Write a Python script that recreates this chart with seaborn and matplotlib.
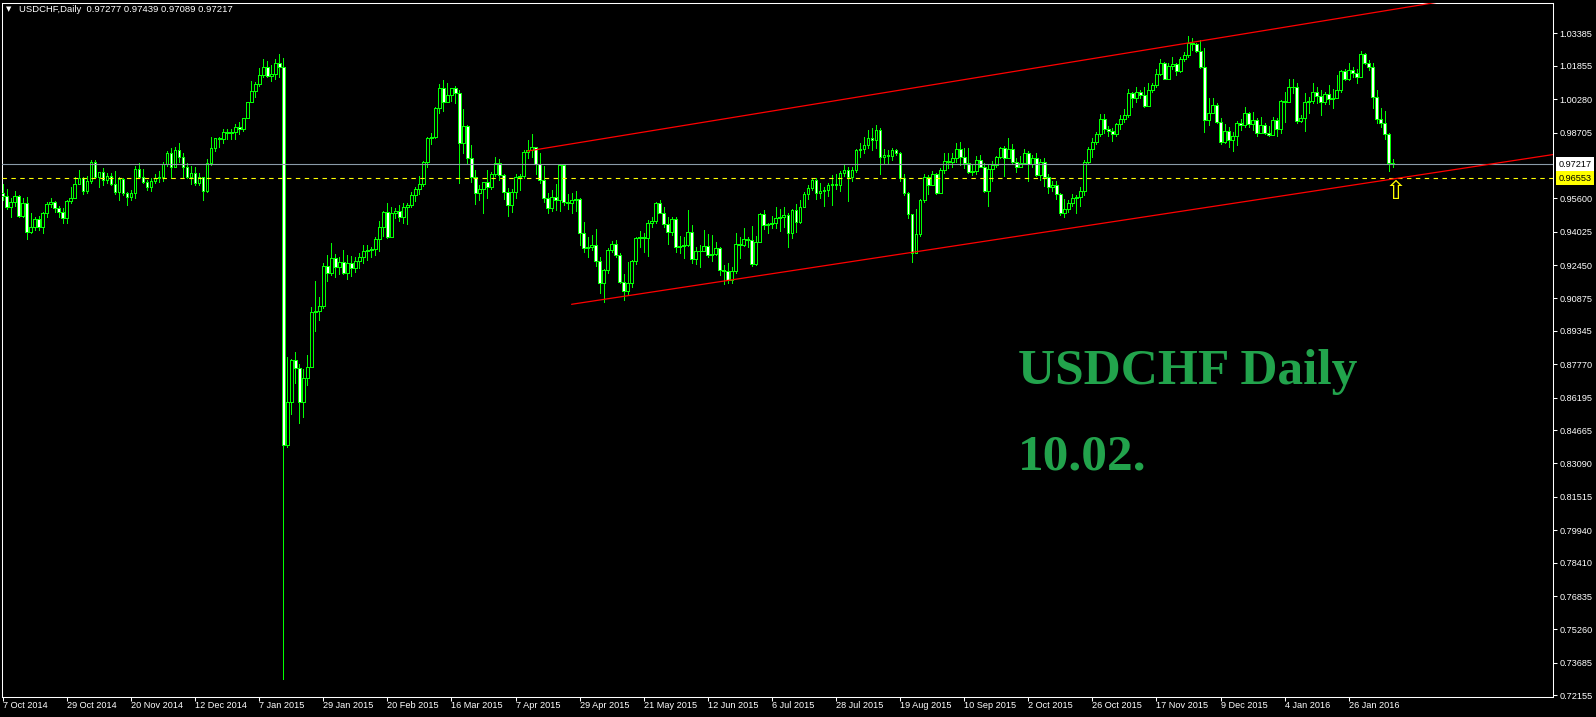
import numpy as np
import matplotlib
matplotlib.use("Agg")
import matplotlib.pyplot as plt
import matplotlib.transforms as mtransforms
import seaborn as sns

# --- daily USDCHF bars (7 Oct 2014 .. 10 Feb 2016) ---
first_open = 0.9583

closes = [
    0.9571, 0.9517, 0.9543, 0.9571, 0.9478, 0.9536, 0.9399, 0.9423, 0.9461, 0.9426,
    0.9489, 0.9533, 0.9543, 0.9516, 0.9497, 0.9469, 0.9546, 0.9560, 0.9626, 0.9654,
    0.9596, 0.9642, 0.9731, 0.9659, 0.9683, 0.9646, 0.9665, 0.9628, 0.9588, 0.9650,
    0.9583, 0.9568, 0.9587, 0.9698, 0.9662, 0.9639, 0.9612, 0.9642, 0.9654, 0.9662,
    0.9722, 0.9772, 0.9709, 0.9788, 0.9756, 0.9709, 0.9662, 0.9681, 0.9634, 0.9662,
    0.9596, 0.9728, 0.9796, 0.9843, 0.9840, 0.9871, 0.9866, 0.9871, 0.9895, 0.9885,
    0.9937, 1.0013, 1.0066, 1.0099, 1.0142, 1.0181, 1.0139, 1.0145, 1.0197, 1.0181,
    0.8396, 0.8597, 0.8797, 0.8758, 0.8600, 0.8710, 0.8765, 0.9025, 0.9030, 0.9052,
    0.9240, 0.9206, 0.9277, 0.9237, 0.9261, 0.9209, 0.9256, 0.9233, 0.9264, 0.9281,
    0.9313, 0.9316, 0.9319, 0.9366, 0.9423, 0.9494, 0.9379, 0.9489, 0.9500, 0.9473,
    0.9517, 0.9528, 0.9575, 0.9604, 0.9626, 0.9730, 0.9843, 0.9847, 0.9984, 1.0079,
    1.0016, 1.0046, 1.0079, 1.0058, 0.9822, 0.9901, 0.9749, 0.9659, 0.9583, 0.9602,
    0.9637, 0.9615, 0.9675, 0.9725, 0.9670, 0.9591, 0.9528, 0.9591, 0.9659, 0.9665,
    0.9780, 0.9788, 0.9804, 0.9722, 0.9646, 0.9560, 0.9513, 0.9564, 0.9552, 0.9717,
    0.9544, 0.9536, 0.9552, 0.9555, 0.9395, 0.9324, 0.9329, 0.9338, 0.9266, 0.9162,
    0.9222, 0.9316, 0.9344, 0.9294, 0.9167, 0.9124, 0.9159, 0.9264, 0.9374, 0.9376,
    0.9371, 0.9445, 0.9454, 0.9539, 0.9492, 0.9439, 0.9399, 0.9462, 0.9332, 0.9336,
    0.9338, 0.9403, 0.9275, 0.9313, 0.9310, 0.9335, 0.9292, 0.9297, 0.9327, 0.9222,
    0.9219, 0.9174, 0.9219, 0.9343, 0.9338, 0.9366, 0.9363, 0.9250, 0.9355, 0.9486,
    0.9434, 0.9437, 0.9442, 0.9465, 0.9470, 0.9480, 0.9398, 0.9505, 0.9450, 0.9520,
    0.9580, 0.9609, 0.9646, 0.9583, 0.9596, 0.9599, 0.9623, 0.9627, 0.9624, 0.9681,
    0.9693, 0.9659, 0.9693, 0.9788, 0.9793, 0.9811, 0.9843, 0.9835, 0.9882, 0.9753,
    0.9764, 0.9761, 0.9788, 0.9772, 0.9654, 0.9583, 0.9484, 0.9303, 0.9390, 0.9552,
    0.9662, 0.9623, 0.9673, 0.9587, 0.9693, 0.9736, 0.9733, 0.9752, 0.9791, 0.9753,
    0.9728, 0.9686, 0.9690, 0.9741, 0.9709, 0.9594, 0.9697, 0.9717, 0.9753, 0.9796,
    0.9752, 0.9791, 0.9733, 0.9709, 0.9728, 0.9772, 0.9722, 0.9752, 0.9670, 0.9733,
    0.9662, 0.9615, 0.9621, 0.9579, 0.9492, 0.9508, 0.9536, 0.9563, 0.9568, 0.9596,
    0.9730, 0.9791, 0.9826, 0.9863, 0.9933, 0.9885, 0.9878, 0.9863, 0.9909, 0.9933,
    0.9951, 1.0055, 1.0031, 1.0060, 1.0047, 0.9996, 1.0071, 1.0095, 1.0145, 1.0197,
    1.0123, 1.0184, 1.0192, 1.0162, 1.0216, 1.0236, 1.0291, 1.0288, 1.0255, 1.0178,
    0.9929, 0.9964, 0.9999, 0.9922, 0.9827, 0.9878, 0.9835, 0.9854, 0.9914, 0.9904,
    0.9964, 0.9911, 0.9929, 0.9870, 0.9906, 0.9867, 0.9859, 0.9929, 0.9885, 1.0019,
    1.0016, 1.0084, 1.0087, 0.9926, 0.9937, 1.0016, 1.0019, 1.0060, 1.0044, 1.0016,
    1.0052, 1.0028, 1.0035, 1.0071, 1.0161, 1.0123, 1.0165, 1.0150, 1.0134, 1.0241,
    1.0197, 1.0181, 1.0040, 0.9933, 0.9917, 0.9863, 0.97277, 0.97217,
]

highs = [
    0.9626, 0.9602, 0.9560, 0.9594, 0.9576, 0.9560, 0.9568, 0.9489, 0.9470, 0.9477,
    0.9497, 0.9544, 0.9560, 0.9549, 0.9524, 0.9514, 0.9552, 0.9615, 0.9662, 0.9694,
    0.9662, 0.9665, 0.9741, 0.9741, 0.9686, 0.9701, 0.9678, 0.9678, 0.9689, 0.9662,
    0.9654, 0.9591, 0.9599, 0.9712, 0.9728, 0.9697, 0.9646, 0.9654, 0.9675, 0.9690,
    0.9733, 0.9785, 0.9796, 0.9800, 0.9819, 0.9775, 0.9725, 0.9712, 0.9706, 0.9678,
    0.9654, 0.9744, 0.9848, 0.9846, 0.9848, 0.9885, 0.9885, 0.9885, 0.9911, 0.9920,
    0.9939, 1.0015, 1.0115, 1.0110, 1.0173, 1.0217, 1.0208, 1.0189, 1.0217, 1.0241,
    1.0220, 0.8809, 0.8800, 0.8836, 0.8778, 0.8753, 0.8820, 0.9045, 0.9170, 0.9093,
    0.9253, 0.9292, 0.9347, 0.9297, 0.9281, 0.9316, 0.9292, 0.9288, 0.9281, 0.9300,
    0.9340, 0.9340, 0.9332, 0.9379, 0.9453, 0.9501, 0.9536, 0.9517, 0.9513, 0.9528,
    0.9536, 0.9536, 0.9588, 0.9615, 0.9665, 0.9737, 0.9851, 0.9866, 0.9989, 1.0099,
    1.0118, 1.0102, 1.0082, 1.0090, 1.0071, 0.9980, 0.9905, 0.9811, 0.9693, 0.9623,
    0.9639, 0.9693, 0.9685, 0.9756, 0.9744, 0.9674, 0.9607, 0.9604, 0.9674, 0.9674,
    0.9788, 0.9835, 0.9863, 0.9796, 0.9772, 0.9712, 0.9583, 0.9599, 0.9627, 0.9722,
    0.9722, 0.9579, 0.9587, 0.9596, 0.9560, 0.9450, 0.9376, 0.9385, 0.9415, 0.9281,
    0.9225, 0.9324, 0.9360, 0.9363, 0.9300, 0.9203, 0.9261, 0.9269, 0.9379, 0.9407,
    0.9395, 0.9458, 0.9470, 0.9543, 0.9552, 0.9517, 0.9473, 0.9470, 0.9470, 0.9382,
    0.9376, 0.9505, 0.9434, 0.9332, 0.9340, 0.9410, 0.9391, 0.9387, 0.9355, 0.9332,
    0.9245, 0.9253, 0.9234, 0.9395, 0.9376, 0.9418, 0.9379, 0.9429, 0.9382, 0.9492,
    0.9505, 0.9442, 0.9476, 0.9517, 0.9510, 0.9517, 0.9489, 0.9508, 0.9533, 0.9552,
    0.9591, 0.9623, 0.9654, 0.9654, 0.9631, 0.9612, 0.9634, 0.9670, 0.9675, 0.9690,
    0.9722, 0.9706, 0.9709, 0.9791, 0.9823, 0.9851, 0.9882, 0.9890, 0.9906, 0.9890,
    0.9791, 0.9788, 0.9796, 0.9791, 0.9780, 0.9675, 0.9591, 0.9473, 0.9509, 0.9555,
    0.9675, 0.9670, 0.9689, 0.9681, 0.9701, 0.9775, 0.9772, 0.9772, 0.9822, 0.9827,
    0.9796, 0.9799, 0.9717, 0.9759, 0.9764, 0.9725, 0.9717, 0.9738, 0.9759, 0.9804,
    0.9807, 0.9843, 0.9816, 0.9748, 0.9759, 0.9791, 0.9785, 0.9764, 0.9772, 0.9744,
    0.9748, 0.9675, 0.9643, 0.9643, 0.9587, 0.9555, 0.9552, 0.9580, 0.9576, 0.9612,
    0.9741, 0.9804, 0.9843, 0.9874, 0.9958, 0.9958, 0.9901, 0.9890, 0.9913, 0.9953,
    0.9980, 1.0074, 1.0063, 1.0084, 1.0071, 1.0084, 1.0102, 1.0106, 1.0169, 1.0216,
    1.0205, 1.0200, 1.0225, 1.0200, 1.0228, 1.0252, 1.0326, 1.0315, 1.0294, 1.0307,
    1.0268, 1.0032, 1.0032, 1.0008, 0.9937, 0.9911, 0.9898, 0.9874, 0.9926, 0.9933,
    0.9989, 0.9969, 0.9969, 0.9937, 0.9942, 0.9917, 0.9901, 0.9942, 0.9937, 1.0024,
    1.0063, 1.0121, 1.0121, 1.0103, 0.9953, 1.0055, 1.0040, 1.0102, 1.0087, 1.0071,
    1.0063, 1.0095, 1.0074, 1.0142, 1.0165, 1.0169, 1.0200, 1.0181, 1.0169, 1.0255,
    1.0247, 1.0213, 1.0197, 1.0071, 0.9985, 0.9974, 0.9870, 0.97439,
]

lows = [
    0.9552, 0.9508, 0.9470, 0.9524, 0.9470, 0.9470, 0.9366, 0.9395, 0.9410, 0.9410,
    0.9398, 0.9473, 0.9521, 0.9497, 0.9470, 0.9445, 0.9442, 0.9536, 0.9560, 0.9631,
    0.9580, 0.9583, 0.9634, 0.9654, 0.9615, 0.9623, 0.9631, 0.9623, 0.9580, 0.9552,
    0.9576, 0.9528, 0.9552, 0.9560, 0.9659, 0.9631, 0.9599, 0.9596, 0.9631, 0.9639,
    0.9643, 0.9712, 0.9654, 0.9706, 0.9733, 0.9654, 0.9654, 0.9628, 0.9623, 0.9623,
    0.9552, 0.9591, 0.9717, 0.9785, 0.9804, 0.9822, 0.9838, 0.9838, 0.9840, 0.9863,
    0.9879, 0.9958, 1.0029, 1.0040, 1.0091, 1.0134, 1.0132, 1.0113, 1.0123, 1.0134,
    0.7291, 0.8385, 0.8542, 0.8687, 0.8501, 0.8529, 0.8679, 0.8765, 0.8935, 0.8986,
    0.9041, 0.9171, 0.9198, 0.9187, 0.9203, 0.9203, 0.9178, 0.9193, 0.9214, 0.9229,
    0.9256, 0.9269, 0.9284, 0.9292, 0.9313, 0.9382, 0.9371, 0.9379, 0.9465, 0.9454,
    0.9442, 0.9439, 0.9520, 0.9549, 0.9580, 0.9618, 0.9709, 0.9816, 0.9846, 0.9961,
    0.9973, 1.0016, 1.0021, 1.0008, 0.9634, 0.9772, 0.9725, 0.9638, 0.9533, 0.9552,
    0.9492, 0.9560, 0.9602, 0.9665, 0.9646, 0.9555, 0.9478, 0.9497, 0.9560, 0.9599,
    0.9654, 0.9749, 0.9753, 0.9675, 0.9634, 0.9544, 0.9492, 0.9502, 0.9505, 0.9502,
    0.9528, 0.9509, 0.9492, 0.9500, 0.9340, 0.9308, 0.9285, 0.9316, 0.9240, 0.9115,
    0.9072, 0.9206, 0.9308, 0.9281, 0.9159, 0.9080, 0.9104, 0.9143, 0.9250, 0.9332,
    0.9308, 0.9288, 0.9426, 0.9442, 0.9489, 0.9426, 0.9344, 0.9387, 0.9308, 0.9303,
    0.9277, 0.9335, 0.9253, 0.9250, 0.9234, 0.9313, 0.9281, 0.9266, 0.9292, 0.9198,
    0.9156, 0.9159, 0.9159, 0.9206, 0.9277, 0.9335, 0.9332, 0.9241, 0.9245, 0.9355,
    0.9413, 0.9398, 0.9418, 0.9418, 0.9407, 0.9426, 0.9332, 0.9371, 0.9402, 0.9442,
    0.9517, 0.9555, 0.9599, 0.9555, 0.9560, 0.9524, 0.9571, 0.9528, 0.9602, 0.9596,
    0.9665, 0.9549, 0.9643, 0.9686, 0.9757, 0.9772, 0.9796, 0.9788, 0.9796, 0.9675,
    0.9728, 0.9728, 0.9741, 0.9764, 0.9643, 0.9575, 0.9465, 0.9261, 0.9300, 0.9382,
    0.9544, 0.9580, 0.9623, 0.9580, 0.9583, 0.9678, 0.9701, 0.9709, 0.9733, 0.9717,
    0.9701, 0.9678, 0.9670, 0.9675, 0.9706, 0.9591, 0.9524, 0.9643, 0.9706, 0.9748,
    0.9665, 0.9748, 0.9725, 0.9686, 0.9709, 0.9725, 0.9643, 0.9709, 0.9665, 0.9646,
    0.9618, 0.9587, 0.9596, 0.9555, 0.9481, 0.9473, 0.9497, 0.9524, 0.9492, 0.9524,
    0.9576, 0.9725, 0.9756, 0.9816, 0.9854, 0.9867, 0.9854, 0.9832, 0.9854, 0.9885,
    0.9922, 0.9942, 0.9992, 1.0016, 1.0031, 0.9989, 0.9996, 1.0063, 1.0087, 1.0142,
    1.0121, 1.0121, 1.0169, 1.0142, 1.0158, 1.0209, 1.0228, 1.0260, 1.0252, 1.0173,
    0.9874, 0.9906, 0.9961, 0.9914, 0.9816, 0.9822, 0.9800, 0.9785, 0.9811, 0.9882,
    0.9895, 0.9898, 0.9882, 0.9854, 0.9870, 0.9863, 0.9854, 0.9874, 0.9854, 0.9870,
    0.9922, 1.0016, 1.0055, 0.9917, 0.9922, 0.9879, 0.9964, 1.0011, 1.0008, 0.9953,
    1.0005, 1.0005, 0.9984, 1.0032, 1.0063, 1.0118, 1.0118, 1.0131, 1.0106, 1.0131,
    1.0194, 1.0165, 0.9984, 0.9917, 0.9898, 0.9838, 0.9690, 0.97089,
]

date_labels = [
    "7 Oct 2014", "29 Oct 2014", "20 Nov 2014", "12 Dec 2014", "7 Jan 2015",
    "29 Jan 2015", "20 Feb 2015", "16 Mar 2015", "7 Apr 2015", "29 Apr 2015",
    "21 May 2015", "12 Jun 2015", "6 Jul 2015", "28 Jul 2015", "19 Aug 2015",
    "10 Sep 2015", "2 Oct 2015", "26 Oct 2015", "17 Nov 2015", "9 Dec 2015",
    "4 Jan 2016", "26 Jan 2016",
]
bars_per_label = 16

price_ticks = [1.03385, 1.01855, 1.00280, 0.98705, 0.95600, 0.94025, 0.92450,
               0.90875, 0.89345, 0.87770, 0.86195, 0.84665, 0.83090, 0.81515,
               0.79940, 0.78410, 0.76835, 0.75260, 0.73685, 0.72155]

bid_price = 0.97217
alert_price = 0.96553

# trend channel: (bar index, price) end points
lower_x, lower_y = [142.0, 387.2], [0.9060, 0.9767]
upper_x, upper_y = [131.0, 387.2], [0.9783, 1.0575]
arrow_bar, arrow_price = 347.7, 0.9649

title = "USDCHF,Daily  0.97277 0.97439 0.97089 0.97217"

# --- style ---
sns.set_theme(style="dark", rc={"axes.facecolor": "black", "figure.facecolor": "black",
                                "axes.grid": False})
plt.rcParams["font.family"] = ["Liberation Sans", "DejaVu Sans"]

LIME = "#00ff00"

fig = plt.figure(figsize=(15.96, 7.17), dpi=100, facecolor="black")
ax = fig.add_axes([0.00125, 0.02789, 0.97180, 0.96834])
ax.set_facecolor("black")

c = np.array(closes)
o = np.r_[first_open, c[:-1]]
hi = np.maximum.reduce([np.array(highs), o, c])
lo = np.minimum.reduce([np.array(lows), o, c])
x = np.arange(len(c))
up = c >= o

# candles: bull = hollow (black), bear = white, lime outline and wicks
ax.vlines(x, lo, hi, color=LIME, lw=0.7, zorder=2, antialiased=False)
ax.bar(x, c - o, bottom=o, width=0.7, color=np.where(up, "black", "white"),
       edgecolor=LIME, linewidth=0.7, zorder=3, antialiased=False)

# price lines
ax.axhline(bid_price, color="#8a9aa8", lw=0.8, zorder=4)
ax.axhline(alert_price, color="#ffff00", lw=0.8, ls=(0, (4, 4)), zorder=4)

# channel
sns.lineplot(x=lower_x, y=lower_y, color="red", lw=0.9, ax=ax, zorder=5)
sns.lineplot(x=upper_x, y=upper_y, color="red", lw=0.9, ax=ax, zorder=5)

ax.text(arrow_bar, arrow_price, "\u21e7", color="#ffff00", fontsize=19,
        ha="center", va="top", family="DejaVu Sans", zorder=6)

ax.set_xlim(-0.2, 387.0)
ax.set_ylim(0.72072, 1.04829)

ax.yaxis.tick_right()
ax.set_yticks(price_ticks)
ax.set_yticklabels([f"{p:.5f}" for p in price_ticks])
ax.set_xticks(np.arange(len(date_labels)) * bars_per_label)
ax.set_xticklabels(date_labels, ha="left")
ax.tick_params(axis="both", colors="white", labelcolor="white", labelsize=6.6,
               length=3, width=0.75, direction="out")
ax.tick_params(axis="x", bottom=True, pad=0)
ax.tick_params(axis="y", right=True, left=False, pad=1.5)
ax.set_xlabel("")
ax.set_ylabel("")
for sp in ax.spines.values():
    sp.set_visible(True)
    sp.set_color("white")
    sp.set_linewidth(0.75)

trans = mtransforms.blended_transform_factory(ax.transAxes, ax.transData)
ax.text(1.0035, bid_price, f"{bid_price:.5f}", transform=trans, ha="left", va="center",
        fontsize=6.6, color="black", clip_on=False,
        bbox=dict(boxstyle="square,pad=0.25", fc="white", ec="none"))
ax.text(1.0035, alert_price, f"{alert_price:.5f}", transform=trans, ha="left", va="center",
        fontsize=6.6, color="black", clip_on=False,
        bbox=dict(boxstyle="square,pad=0.25", fc="#ffff00", ec="none"))

# header
fig.text(6 / 1596, 1 - 9 / 717, "\u25bc", color="white", fontsize=5, va="center",
         family="DejaVu Sans")
fig.text(19 / 1596, 1 - 9 / 717, title, color="white", fontsize=6.8, va="center")

# annotation
green = "#22a34c"
fig.text(1018 / 1596, 1 - 384 / 717, "USDCHF Daily", color=green, fontsize=37,
         fontweight="bold", family="Liberation Serif", va="baseline")
fig.text(1018 / 1596, 1 - 470 / 717, "10.02.", color=green, fontsize=37,
         fontweight="bold", family="Liberation Serif", va="baseline")

fig.savefig("out.png", dpi=100, facecolor="black")
